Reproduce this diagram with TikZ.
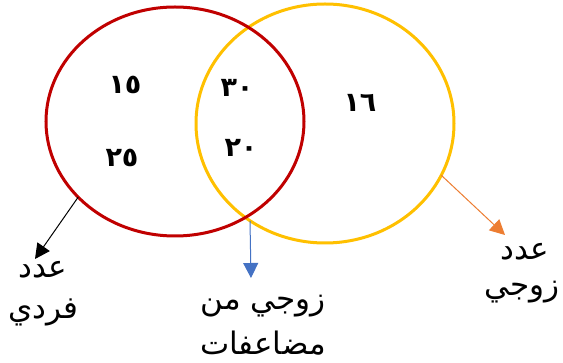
\documentclass[tikz,border=0pt]{standalone}
\usepackage{fontspec}
\TeXXeTstate=1
\newfontfamily\ar[Script=Arabic]{DejaVu Sans}
\usetikzlibrary{shapes.geometric,arrows.meta}
\definecolor{vred}{HTML}{C00000}
\definecolor{vyel}{HTML}{FFC000}
\definecolor{vblue}{HTML}{4472C4}
\definecolor{vorange}{HTML}{ED7D31}
\tikzset{
  setring/.style={ellipse,draw,line width=3pt,inner sep=0pt,outer sep=0pt},
  num/.style={font=\ar\bfseries\fontsize{27}{27}\selectfont,inner sep=0pt},
  lbl/.style={font=\ar\fontsize{31}{31}\selectfont,inner sep=0pt},
  pointer/.style={line width=1pt,-{Triangle[length=15pt,width=15pt]}}
}
\begin{document}
\begin{tikzpicture}[x=1pt,y=-1pt]
\useasboundingbox[fill=white] (0,0) rectangle (563,363);
\node[setring,vyel,minimum width=258pt,minimum height=239pt] (even) at (325,123.5) {};
\node[setring,vred,minimum width=258pt,minimum height=229pt] (odd) at (175,121.5) {};
\coordinate (meet) at (250,221);
% numbers
\node[num] (n15) at (125,85) {١٥};
\node[num] (n25) at (122,158) {٢٥};
\node[num] (n30) at (237,88) {٣٠};
\node[num] (n20) at (241,148) {٢٠};
\node[num] (n16) at (360,103) {١٦};
% labels
\node[lbl] (oddA) at (43,270) {\beginR عدد\endR};
\node[lbl] (oddB) at (43,312) {\beginR فردي\endR};
\node[lbl] (midA) at (263,306) {\beginR زوجي من\endR};
\node[lbl] (midB) at (263,343) {\beginR مضاعفات\endR};
\node[lbl] (evA) at (525,252) {\beginR عدد\endR};
\node[lbl] (evB) at (522,292) {\beginR زوجي\endR};
% arrow ends
\coordinate (tipodd) at (35,259);
\coordinate (tipmid) at (251,278);
\coordinate (tipev) at (505,235);
\draw[pointer,black] (odd.218) -- (tipodd);
\draw[pointer,vblue] (meet) -- (tipmid);
\draw[pointer,vorange] (even.-24.6) -- (tipev);
\end{tikzpicture}
\end{document}
